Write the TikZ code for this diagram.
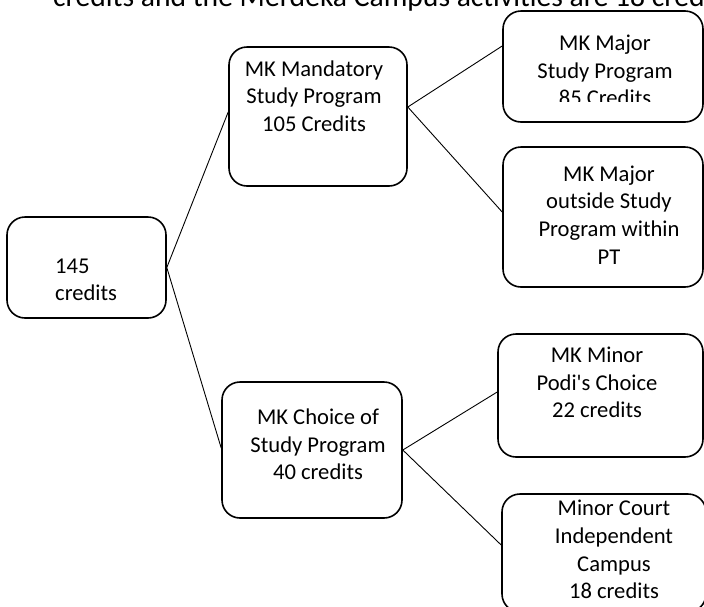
\documentclass[tikz,border=0pt]{standalone}
\usepackage{fontspec}
\setmainfont{Carlito}
\begin{document}
\begin{tikzpicture}[x=1pt,y=-1pt,
  box/.style={draw, line width=1.6pt, rounded corners=18pt, inner sep=0pt},
  conn/.style={draw, line width=0.9pt},
  txt/.style={font=\fontsize{22.6}{27.6}\selectfont, align=center, inner sep=0pt}]
\useasboundingbox (0,0) rectangle (704,606);
\begin{scope}
\clip (0,0) rectangle (704,606);
% top text (cut by the frame, as in the reference)
\node[anchor=base west, inner sep=0pt, font=\fontsize{29.6}{35}\selectfont] (top) at (53,6) {credits and the Merdeka Campus activities are 18 cred};
% boxes
\node[box, minimum width=159pt, minimum height=101pt] (A) at (86.5,267.5) {};
\node[box, minimum width=178pt, minimum height=139pt] (B) at (318,116.5) {};
\node[box, minimum width=200pt, minimum height=111pt] (C) at (603,66.5) {};
\node[box, minimum width=200pt, minimum height=140pt] (D) at (603,217) {};
\node[box, minimum width=180pt, minimum height=136pt] (F) at (312,450) {};
\node[box, minimum width=205pt, minimum height=123pt] (G) at (600.5,395.5) {};
\node[box, minimum width=204pt, minimum height=118pt] (H) at (604,553) {};
% connectors
\draw[conn] (A.east) -- ([yshift=4.5pt]B.west);
\draw[conn] (A.east) -- ([yshift=2pt]F.west);
\draw[conn] ([yshift=9.5pt]B.east) -- ([yshift=20.5pt]C.west);
\draw[conn] ([yshift=9.5pt]B.east) -- ([yshift=5pt]D.west);
\draw[conn] (F.east) -- ([yshift=3.5pt]G.west);
\draw[conn] (F.east) -- ([yshift=8pt]H.west);
% texts
\node[txt, align=left, anchor=west] (tA) at (55,280) {145\\credits};
\node[txt] (tB) at (314,96) {MK Mandatory\\Study Program\\105 Credits};
\begin{scope}
\clip (503,11) rectangle (703,101.5);
\node[txt] (tC) at (605,70.5) {MK Major\\Study Program\\85 Credits};
\end{scope}
\node[txt] (tD) at (609,215) {MK Major\\outside Study\\Program within\\PT};
\node[txt] (tF) at (318,444.5) {MK Choice of\\Study Program\\40 credits};
\node[txt] (tG) at (597,382.5) {MK Minor\\Podi\textquotesingle s Choice\\22 credits};
\node[txt] (tH) at (614,549.5) {Minor Court\\Independent\\Campus\\18 credits};
\end{scope}
\end{tikzpicture}
\end{document}
